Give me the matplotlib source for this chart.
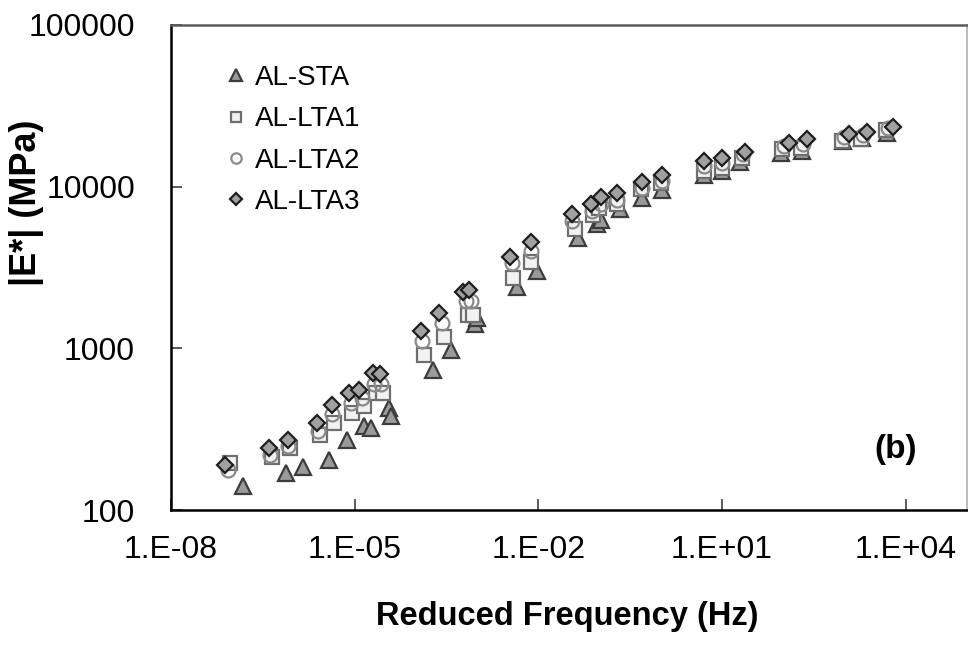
import matplotlib
matplotlib.use("Agg")
import matplotlib.pyplot as plt
from matplotlib.ticker import FixedLocator, FuncFormatter, NullLocator
import numpy as np

plt.rcParams['font.family'] = ['Liberation Sans', 'DejaVu Sans']

# Reduced frequency (Hz) and |E*| (MPa) per mixture
sta_f = [1.50e-7, 7.5e-7, 1.42e-6, 3.8e-6, 7.4e-6, 1.41e-5, 1.83e-5, 3.6e-5, 3.9e-5,
         1.88e-4, 3.7e-4, 9.1e-4, 9.8e-4, 4.4e-3, 9.4e-3, 4.4e-2, 8.9e-2, 0.107, 0.219,
         0.50, 1.06, 5.1, 10.1, 19.9, 93, 204, 953, 1945, 4980]
sta_e = [141, 169, 184, 204, 270, 330, 321, 427, 380,
         731, 972, 1406, 1531, 2383, 2988, 4842, 5912, 6260, 7312,
         8550, 9575, 11860, 12560, 14270, 16220, 16680, 19240, 20050, 21540]

lta1_f = [9.2e-8, 4.4e-7, 8.7e-7, 2.7e-6, 4.6e-6, 9.0e-6, 1.41e-5, 2.21e-5, 2.87e-5,
          1.34e-4, 2.84e-4, 7.0e-4, 8.5e-4, 3.9e-3, 7.7e-3, 4.0e-2, 7.9e-2, 0.0995, 0.189,
          0.483, 1.02, 5.1, 10.1, 21.4, 96, 197, 916, 1870, 4790]
lta1_e = [195, 212, 241, 290, 344, 397, 439, 527, 527,
          906, 1170, 1600, 1600, 2741, 3444, 5508, 6717, 7418, 7850,
          9726, 10590, 12560, 13100, 15100, 17180, 17420, 19240, 19800, 22480]

lta2_f = [8.5e-8, 4.1e-7, 8.1e-7, 2.5e-6, 4.2e-6, 8.6e-6, 1.31e-5, 2.05e-5, 2.67e-5,
          1.24e-4, 2.64e-4, 6.5e-4, 7.8e-4, 3.66e-3, 7.7e-3, 3.6e-2, 7.4e-2, 0.104, 0.189,
          0.50, 1.06, 5.1, 10.1, 22.2, 104, 212, 989, 2018, 5160]
lta2_e = [177, 219, 248, 307, 392, 457, 491, 600, 600,
          1105, 1426, 1950, 1950, 3350, 4027, 6166, 7112, 7850, 8318,
          9870, 10890, 13480, 14070, 15990, 17900, 18420, 20370, 20950, 23130]

lta3_f = [7.6e-8, 3.97e-7, 8.1e-7, 2.41e-6, 4.23e-6, 8.0e-6, 1.17e-5, 1.97e-5, 2.57e-5,
          1.20e-4, 2.36e-4, 5.8e-4, 7.3e-4, 3.5e-3, 7.7e-3, 3.6e-2, 7.1e-2, 0.104, 0.189,
          0.50, 1.06, 5.1, 10.1, 24, 125, 247, 1194, 2344, 6220]
lta3_e = [190, 241, 270, 344, 445, 527, 551, 701, 692,
          1273, 1644, 2217, 2281, 3698, 4575, 6805, 7850, 8670, 9180,
          10750, 11860, 14460, 15100, 16440, 18700, 19800, 21240, 21880, 23450]

labels = ['AL-STA', 'AL-LTA1', 'AL-LTA2', 'AL-LTA3']
x_ticks = [1e-8, 1e-5, 1e-2, 1e1, 1e4]
y_ticks = [100, 1000, 10000, 100000]

fig = plt.figure(figsize=(9.68, 6.5), dpi=100)
ax = fig.add_axes([171/968, 1-510/650, 796/968, 485/650])

ax.plot(sta_f, sta_e, linestyle='none', marker='^', markersize=12,
        markerfacecolor='#9a9a9a', markeredgecolor='#3c3c3c', markeredgewidth=1.6,
        label=labels[0])
ax.plot(lta1_f, lta1_e, linestyle='none', marker='s', markersize=9.5,
        markerfacecolor='#f2f2f2', markeredgecolor='#6e6e6e', markeredgewidth=1.6,
        label=labels[1])
ax.plot(lta2_f, lta2_e, linestyle='none', marker='o', markersize=10,
        markerfacecolor='none', markeredgecolor='#8a8a8a', markeredgewidth=1.6,
        label=labels[2])
ax.plot(lta3_f, lta3_e, linestyle='none', marker='D', markersize=8.5,
        markerfacecolor='#a0a0a0', markeredgecolor='#1e1e1e', markeredgewidth=1.6,
        label=labels[3])

ax.set_xscale('log')
ax.set_yscale('log')
ax.set_xlim(1e-8, 1e5)
ax.set_ylim(100, 100000)

ax.xaxis.set_major_locator(FixedLocator(x_ticks))
ax.xaxis.set_minor_locator(NullLocator())
ax.yaxis.set_major_locator(FixedLocator(y_ticks))
ax.yaxis.set_minor_locator(NullLocator())
ax.xaxis.set_major_formatter(FuncFormatter(lambda v, p: "1.E%+03d" % int(round(np.log10(v)))))
ax.yaxis.set_major_formatter(FuncFormatter(lambda v, p: "%d" % v))

ax.tick_params(axis='both', which='major', direction='in', length=8, width=1.2,
               color='#404040', labelsize=23, labelcolor='black')
ax.tick_params(axis='x', pad=18)
ax.tick_params(axis='y', pad=26)

for s in ['left', 'bottom']:
    ax.spines[s].set_color('black')
    ax.spines[s].set_linewidth(1.8)
ax.spines['top'].set_color('#5a5a5a')
ax.spines['top'].set_linewidth(1.8)
ax.spines['right'].set_color('#b0b0b0')
ax.spines['right'].set_linewidth(1.2)

leg = ax.legend(loc='upper left', bbox_to_anchor=(0.05, 0.94), frameon=False,
                fontsize=20, markerscale=0.75, handletextpad=0.2, labelspacing=0.55,
                handlelength=1.0, borderaxespad=0)

ax.text(0.91, 0.124, '(b)', transform=ax.transAxes, fontsize=24, fontweight='bold',
        ha='center', va='center')

fig.text(567/968, 1-617/650, 'Reduced Frequency (Hz)', fontsize=23.5, fontweight='bold',
         ha='center', va='center')
fig.text(27/968, 1-203/650, '|E*| (MPa)', fontsize=26, fontweight='bold',
         ha='center', va='center', rotation=90)

fig.savefig('out.png', dpi=100)
